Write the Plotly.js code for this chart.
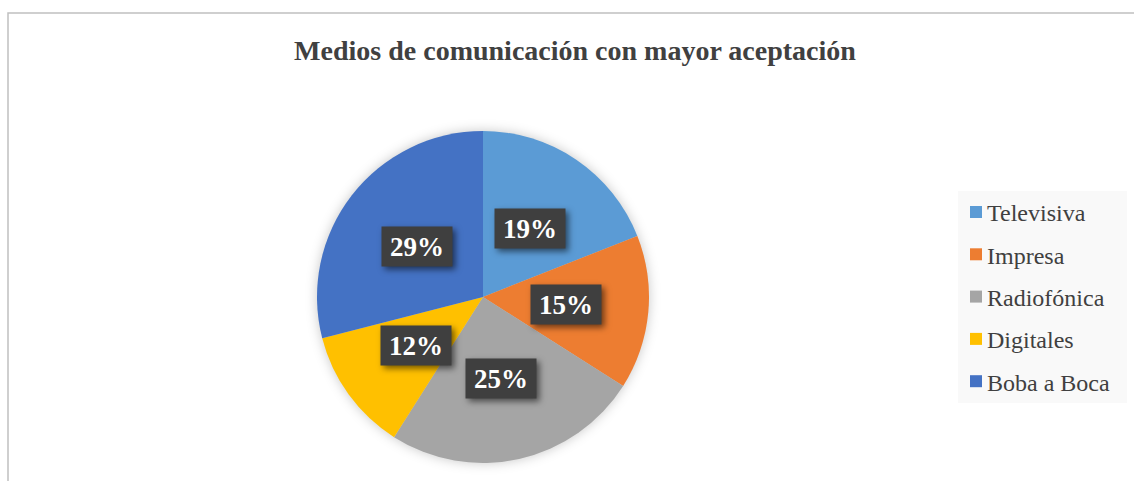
<!DOCTYPE html>
<html>
<head>
<meta charset="utf-8">
<script src="https://cdn.plot.ly/plotly-3.0.1.min.js"></script>
<style>
html,body{margin:0;padding:0;background:#fff;}
#chart{width:1134px;height:481px;}
</style>
</head>
<body>
<div id="chart"></div>
<script>
const categories = ["Televisiva", "Impresa", "Radiofónica", "Digitales", "Boba a Boca"];
const values = [19, 15, 25, 12, 29];
const colors = ["#5B9BD5", "#ED7D31", "#A5A5A5", "#FFC000", "#4472C4"];
const chartTitle = "Medios de comunicación con mayor aceptación";

const W = 1134, H = 481;
const SERIF = 'Liberation Serif, Times New Roman, Times, serif';
// pie geometry (pixels)
const cx = 483, cy = 297, R = 166;
const domX = [(cx - R) / W, (cx + R) / W];
const domY = [(H - (cy + R)) / H, (H - (cy - R)) / H];

const total = values.reduce((a, b) => a + b, 0);
const annotations = [];
let cum = 0;
values.forEach((v, i) => {
  const mid = (cum + v / 2) / total;
  cum += v;
  const th = mid * 2 * Math.PI;
  const px = cx + 0.5 * R * Math.sin(th);
  const py = cy - 0.5 * R * Math.cos(th);
  annotations.push({
    xref: 'paper', yref: 'paper',
    x: px / W, y: (H - py) / H,
    xanchor: 'center', yanchor: 'middle',
    text: '<b>' + Math.round(v / total * 100) + '%</b>',
    showarrow: false,
    font: {family: SERIF, size: 27, color: '#ffffff'},
    bgcolor: '#3f3f3f',
    width: 70, height: 39, borderpad: 0
  });
});

const data = [{
  type: 'pie',
  labels: categories,
  values: values,
  marker: {colors: colors, line: {width: 0}},
  sort: false,
  direction: 'clockwise',
  rotation: 0,
  textinfo: 'none',
  hoverinfo: 'none',
  domain: {x: domX, y: domY}
}];

const layout = {
  width: W, height: H,
  margin: {l: 0, r: 0, t: 0, b: 0},
  paper_bgcolor: '#ffffff',
  title: {
    text: '<b>' + chartTitle + '</b>',
    font: {family: SERIF, size: 28, color: '#404040'},
    x: 575 / W, xanchor: 'center', xref: 'paper',
    y: 1 - 50 / H, yanchor: 'middle', yref: 'container'
  },
  showlegend: true,
  legend: {
    x: 958 / W, xanchor: 'left',
    y: (H - 191) / H, yanchor: 'top',
    bgcolor: 'rgba(0,0,0,0)',
    font: {family: SERIF, size: 24, color: '#404040'},
    traceorder: 'normal'
  },
  shapes: [
    {type: 'rect', xref: 'paper', yref: 'paper', layer: 'below',
     x0: 8 / W, x1: 1.2, y0: -0.2, y1: (H - 13) / H,
     line: {color: '#c0c0c0', width: 1.5}, fillcolor: 'rgba(0,0,0,0)'},
    {type: 'rect', xref: 'paper', yref: 'paper', layer: 'below',
     x0: 958 / W, x1: 1127 / W, y0: (H - 403) / H, y1: (H - 191) / H,
     line: {width: 0}, fillcolor: '#f9f9f9'}
  ],
  annotations: annotations
};

const gd = document.getElementById('chart');
Plotly.newPlot(gd, data, layout, {staticPlot: true}).then(() => {
  const pieG = gd.querySelector('.pielayer');
  if (pieG) pieG.style.filter = 'drop-shadow(0px 0px 6px rgba(0,0,0,0.22))';
  gd.querySelectorAll('.annotation .bg, .annotation-text-g rect.bg').forEach(r => {
    r.style.filter = 'drop-shadow(3px 3px 3px rgba(0,0,0,0.55))';
  });
  const sb = gd.querySelector('.legend .scrollbox');
  if (sb) sb.removeAttribute('clip-path');
  const items = gd.querySelectorAll('.legend .traces');
  items.forEach((g, i) => {
    const sym = g.querySelector('.legendpoints path');
    if (!sym) return;
    const r = sym.getBoundingClientRect();
    const scx = r.left + r.width / 2, scy = r.top + r.height / 2;
    const tcx = 976, tcy = 212 + i * 42.3;
    const tr = g.getAttribute('transform') || '';
    const m = tr.match(/translate\(\s*([-\d.e]+)[ ,]+([-\d.e]+)\s*\)/);
    let a = 0, b = 0;
    if (m) { a = parseFloat(m[1]); b = parseFloat(m[2]); }
    g.setAttribute('transform', 'translate(' + (a + tcx - scx) + ',' + (b + tcy - scy) + ')');
    const txt = g.querySelector('.legendtext');
    if (txt) {
      const r2 = sym.getBoundingClientRect();
      const t2 = txt.getBoundingClientRect();
      const shift = (r2.right + 5) - t2.left;
      txt.setAttribute('x', parseFloat(txt.getAttribute('x') || 0) + shift);
    }
  });
});
</script>
</body>
</html>
